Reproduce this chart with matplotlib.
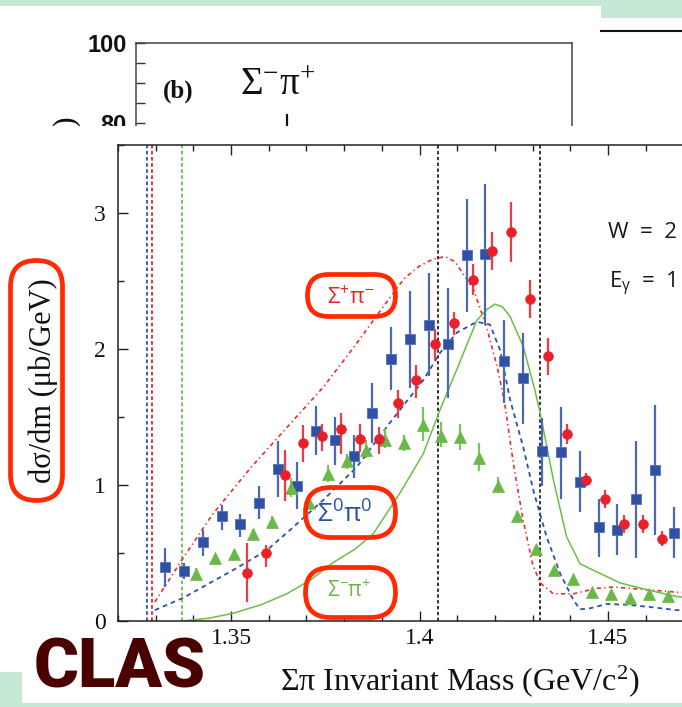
import matplotlib
matplotlib.use("Agg")
import matplotlib.pyplot as plt
from matplotlib.patches import Rectangle, FancyBboxPatch
from matplotlib.ticker import MultipleLocator, FixedLocator, FixedFormatter
import numpy as np

plt.rcParams['font.family'] = ['Liberation Serif', 'DejaVu Serif']

# ---------------- data ----------------
# Sigma0 pi0 (blue squares)
blue_m = [1.3325, 1.3375, 1.3425, 1.3475, 1.3525, 1.3575, 1.3625, 1.3675, 1.3725, 1.3775,
          1.3825, 1.3875, 1.3925, 1.3975, 1.4025, 1.4075, 1.4125, 1.4175, 1.4225, 1.4275,
          1.4325, 1.4375, 1.4425, 1.4475, 1.4525, 1.4575, 1.4625, 1.4675]
blue_v = [0.40, 0.37, 0.58, 0.77, 0.71, 0.87, 1.12, 0.99, 1.40, 1.33,
          1.21, 1.53, 1.93, 2.07, 2.18, 2.04, 2.69, 2.70, 1.91, 1.79,
          1.25, 1.24, 1.02, 0.69, 0.67, 0.90, 1.11, 0.65]
blue_lo = [0.25, 0.31, 0.48, 0.67, 0.62, 0.75, 0.91, 0.82, 1.22, 1.15,
           1.05, 1.31, 1.70, 1.71, 1.80, 1.64, 2.27, 2.18, 1.60, 1.45,
           0.99, 0.90, 0.80, 0.47, 0.485, 0.46, 0.63, 0.46]
blue_hi = [0.54, 0.43, 0.67, 0.85, 0.79, 0.99, 1.32, 1.17, 1.58, 1.50,
           1.37, 1.75, 2.16, 2.43, 2.56, 2.45, 3.10, 3.21, 2.21, 2.12,
           1.49, 1.57, 1.25, 0.90, 0.86, 1.32, 1.59, 0.84]

# Sigma+ pi- (red circles)
red_m = [1.3542, 1.3592, 1.3642, 1.3692, 1.3742, 1.3792, 1.3842, 1.3892, 1.3942, 1.3992,
         1.4042, 1.4092, 1.4142, 1.4192, 1.4242, 1.4292, 1.4342, 1.4392, 1.4442, 1.4492,
         1.4542, 1.4592, 1.4642]
red_v = [0.355, 0.50, 1.07, 1.31, 1.36, 1.41, 1.34, 1.34, 1.60, 1.77,
         2.04, 2.19, 2.51, 2.72, 2.86, 2.37, 1.95, 1.375, 1.04, 0.90,
         0.71, 0.71, 0.60]
red_lo = [0.14, 0.40, 0.885, 1.17, 1.25, 1.23, 1.245, 1.23, 1.49, 1.64,
          1.92, 2.10, 2.40, 2.58, 2.64, 2.225, 1.81, 1.30, 0.99, 0.83,
          0.65, 0.65, 0.55]
red_hi = [0.57, 0.56, 1.26, 1.44, 1.45, 1.53, 1.45, 1.43, 1.70, 1.88,
          2.15, 2.27, 2.625, 2.86, 3.08, 2.51, 2.08, 1.45, 1.09, 0.96,
          0.78, 0.78, 0.66]

# Sigma- pi+ (green triangles)
green_m = [1.3408, 1.3458, 1.3508, 1.3558, 1.3608, 1.3658, 1.3708, 1.3758, 1.3808, 1.3858,
           1.3908, 1.3958, 1.4008, 1.4058, 1.4108, 1.4158, 1.4208, 1.4258, 1.4308, 1.4358,
           1.4408, 1.4458, 1.4508, 1.4558, 1.4608, 1.4658]
green_v = [0.345, 0.46, 0.49, 0.64, 0.73, 0.98, 0.87, 1.08, 1.18, 1.26,
           1.33, 1.31, 1.44, 1.36, 1.35, 1.20, 0.99, 0.775, 0.53, 0.375,
           0.31, 0.215, 0.20, 0.167, 0.196, 0.184]
green_lo = [0.30, 0.43, 0.46, 0.60, 0.69, 0.91, 0.82, 1.02, 1.12, 1.20,
            1.27, 1.25, 1.32, 1.28, 1.26, 1.105, 0.94, 0.74, 0.50, 0.35,
            0.29, 0.20, 0.18, 0.15, 0.18, 0.17]
green_hi = [0.39, 0.49, 0.52, 0.68, 0.77, 1.05, 0.91, 1.147, 1.23, 1.33,
            1.41, 1.37, 1.57, 1.46, 1.45, 1.31, 1.06, 0.81, 0.56, 0.40,
            0.33, 0.23, 0.22, 0.18, 0.21, 0.20]

# model curves
red_curve_m = [1.3298, 1.3370, 1.3450, 1.3550, 1.3657, 1.3745, 1.3833, 1.3922, 1.3960, 1.4000,
               1.4035, 1.4068, 1.4095, 1.4116, 1.4143, 1.4178, 1.4205, 1.4225, 1.4250, 1.4275,
               1.4300, 1.4320, 1.4355, 1.4408, 1.4470, 1.4514, 1.4603, 1.4690, 1.4800, 1.5000]
red_curve_v = [0.14, 0.45, 0.78, 1.12, 1.45, 1.72, 2.04, 2.38, 2.52, 2.61,
               2.66, 2.68, 2.64, 2.55, 2.44, 2.16, 1.88, 1.62, 1.14, 0.74,
               0.42, 0.28, 0.20, 0.20, 0.24, 0.25, 0.23, 0.21, 0.20, 0.19]

blue_curve_m = [1.3298, 1.3373, 1.3506, 1.3595, 1.3657, 1.3745, 1.3833, 1.3922, 1.4010, 1.4054,
                1.4099, 1.4152, 1.4187, 1.4214, 1.4240, 1.4275, 1.4302, 1.4337, 1.4373, 1.4408,
                1.4426, 1.4452, 1.4497, 1.4558, 1.4620, 1.4682, 1.4800, 1.5000]
blue_curve_v = [0.08, 0.17, 0.375, 0.52, 0.67, 0.89, 1.13, 1.46, 1.77, 1.97,
                2.12, 2.20, 2.18, 1.99, 1.63, 1.28, 0.96, 0.62, 0.35, 0.155,
                0.086, 0.093, 0.125, 0.118, 0.10, 0.08, 0.07, 0.06]

green_curve_m = [1.3370, 1.3440, 1.3506, 1.3580, 1.3648, 1.3710, 1.3771, 1.3830, 1.3877, 1.3948,
                 1.4010, 1.4054, 1.4099, 1.4152, 1.4178, 1.4200, 1.4220, 1.4240, 1.4275, 1.4306,
                 1.4320, 1.4355, 1.4390, 1.4426, 1.4479, 1.4532, 1.4603, 1.4682, 1.4800, 1.5000]
green_curve_v = [0.0, 0.02, 0.057, 0.12, 0.20, 0.30, 0.43, 0.53, 0.64, 0.94,
                 1.23, 1.55, 1.85, 2.21, 2.29, 2.33, 2.31, 2.24, 2.02, 1.70,
                 1.53, 1.04, 0.62, 0.42, 0.35, 0.28, 0.23, 0.18, 0.15, 0.12]

thresholds = [1.3276, 1.3290, 1.3369]   # Sigma0pi0, Sigma+pi-, Sigma-pi+
threshold_colors = ['#2f50a8', '#e8202a', '#6cbf45']
window_lines = [1.405, 1.432]

xticks = [1.35, 1.40, 1.45]
xticklabels = ['1.35', '1.4', '1.45']
yticks = [0, 1, 2, 3]

# ---------------- figure ----------------
W, H = 682, 707
fig = plt.figure(figsize=(W / 100, H / 100), dpi=100)
fig.patch.set_facecolor('white')

def pix_axes(z):
    a = fig.add_axes([0, 0, 1, 1], zorder=z)
    a.set_xlim(0, W)
    a.set_ylim(H, 0)
    a.axis('off')
    a.patch.set_alpha(0)
    return a

mint = '#c6e8d5'
bg = pix_axes(0)
bg.add_patch(Rectangle((0, 0), 601, 6, color=mint, lw=0))
bg.add_patch(Rectangle((601, 0), 81, 18, color=mint, lw=0))
bg.add_patch(Rectangle((0, 672), 22, 35, color=mint, lw=0))
bg.add_patch(Rectangle((0, 703), 682, 4, color=mint, lw=0))
bg.plot([601, 682], [31, 31], color='#111111', lw=1.5)
bg.plot([287, 287], [115, 140], color='#111111', lw=1.6)
bg.text(66, 121, ')', rotation=90, ha='center', va='center', fontsize=23,
        family='Liberation Serif', color='#111111')
bg.text(163, 98, '(b)', fontsize=18, fontweight='bold', family='Liberation Serif',
        ha='left', va='baseline', color='#111111')
bg.text(240, 95, r'$\mathregular{\Sigma^{-}\pi^{+}}$', fontsize=28, family='Liberation Serif',
        ha='left', va='baseline', color='#111111')

# upper panel (b), mostly hidden
axb = fig.add_axes([136 / W, 1 - 244.2 / H, 436 / W, 201.5 / H], zorder=0.5)
axb.patch.set_alpha(0)
axb.set_ylim(50, 100)
axb.set_xlim(0, 1)
axb.set_xticks([])
axb.yaxis.set_major_locator(FixedLocator([80, 100]))
axb.yaxis.set_minor_locator(FixedLocator([85, 90, 95]))
axb.tick_params(axis='y', which='both', direction='in', length=6.5, width=1.0,
                colors='#333333', pad=6.5)
for lab in axb.get_yticklabels():
    lab.set_family('Liberation Sans')
    lab.set_fontweight('bold')
    lab.set_fontsize(17)
    lab.set_color('#111111')
axb.spines['bottom'].set_visible(False)
for s in ['left', 'top', 'right']:
    axb.spines[s].set_color('#444444')
    axb.spines[s].set_linewidth(1.1)

# white cover (pasted lower figure)
cov = pix_axes(1)
cov.add_patch(Rectangle((22, 126), 660, 577, color='white', lw=0))

# main axes
ax = fig.add_axes([117.9 / W, 1 - 621 / H, 678.6 / W, 476 / H], zorder=2)
ax.patch.set_alpha(0)
ax.set_xlim(1.32, 1.50)
ax.set_ylim(0, 3.5)

for t, c in zip(thresholds, threshold_colors):
    ax.axvline(t, color=c, lw=1.3, ls=(0, (2.0, 1.4)), zorder=1)
for t in window_lines:
    ax.axvline(t, color='#111111', lw=1.2, ls=(0, (2.0, 1.5)), zorder=1)

ax.plot(red_curve_m, red_curve_v, color='#ee2a2a', lw=1.2, ls=(0, (2.5, 2.0, 0.8, 2.0)), zorder=2)
ax.plot(blue_curve_m, blue_curve_v, color='#2f50a8', lw=1.3, ls=(0, (2.6, 2.2)), zorder=2)
ax.plot(green_curve_m, green_curve_v, color='#6cbf45', lw=1.1, ls='-', zorder=2)

bv = np.array(blue_v)
ax.errorbar(blue_m, blue_v, yerr=[bv - np.array(blue_lo), np.array(blue_hi) - bv],
            fmt='s', ms=7.2, mfc='#2f50a5', mec='#5571b8', mew=0.6,
            ecolor='#4b68b5', elinewidth=1.6, capsize=0, zorder=3)
gv = np.array(green_v)
ax.errorbar(green_m, green_v, yerr=[gv - np.array(green_lo), np.array(green_hi) - gv],
            fmt='^', ms=8.0, mfc='#6ab84a', mec='#6ab84a', mew=0.5,
            ecolor='#7cc35a', elinewidth=1.6, capsize=0, zorder=4)
rv = np.array(red_v)
ax.errorbar(red_m, red_v, yerr=[rv - np.array(red_lo), np.array(red_hi) - rv],
            fmt='o', ms=7.0, mfc='#e8202a', mec='#e8202a', mew=0.5,
            ecolor='#ee3a45', elinewidth=1.6, capsize=0, zorder=5)

ax.xaxis.set_major_locator(FixedLocator(xticks))
ax.xaxis.set_major_formatter(FixedFormatter(xticklabels))
ax.xaxis.set_minor_locator(MultipleLocator(0.01))
ax.yaxis.set_major_locator(FixedLocator(yticks))
ax.yaxis.set_minor_locator(MultipleLocator(0.5))
ax.tick_params(which='both', direction='in', top=True, right=False, colors='#222222', width=1.0,
               labelcolor='#111111')
ax.tick_params(which='major', length=7.2)
ax.tick_params(which='minor', length=4.3)
ax.tick_params(axis='x', which='major', pad=5, labelsize=17)
ax.tick_params(axis='y', which='major', pad=9, labelsize=17)
ax.spines['right'].set_visible(False)
for s in ['left', 'top', 'bottom']:
    ax.spines[s].set_color('#222222')
    ax.spines[s].set_linewidth(1.1)

# overlay texts and annotation boxes
ov = pix_axes(3)
ov.text(43, 381, 'dσ/dm (μb/GeV)', rotation=90, ha='center', va='center', fontsize=22,
        family='Liberation Serif', color='#111111')
ov.text(460, 690, r'Σπ Invariant Mass (GeV/c$\mathregular{^2}$)', ha='center', va='baseline',
        fontsize=23, family='Liberation Serif', color='#111111')
ov.text(34, 687, 'CLAS', ha='left', va='baseline', fontsize=49.5, family='Roboto',
        fontweight='heavy', color='#4b0000')
ov.text(608, 238, 'W  =  2', ha='left', va='baseline', fontsize=16, family='Open Sans',
        color='#1a1a1a')
ov.text(609, 288, r'$\mathregular{E_{\gamma}}$  =  1', ha='left', va='baseline', fontsize=16,
        family='Open Sans', color='#1a1a1a')

box_red = '#ff2a00'
def pill(x0, y0, w, h, r):
    ov.add_patch(FancyBboxPatch((x0, y0), w, h, boxstyle=f'round,pad=0,rounding_size={r}',
                                fill=False, ec=box_red, lw=3.4))

pill(10.5, 260.5, 52, 240, 26)
pill(307.5, 274.5, 88, 42, 21)
pill(305.5, 487.5, 90, 50, 25)
pill(305.5, 567.5, 90, 50, 25)

ov.text(351, 297, r'$\mathregular{\Sigma^{+}\pi^{-}}$', ha='center', va='center', fontsize=16,
        family='Open Sans', color='#e82020')
ov.text(345, 515, r'$\mathregular{\Sigma^{0}\pi^{0}}$', ha='center', va='center', fontsize=19,
        family='Open Sans', color='#2d4fa0')
ov.text(349, 591, r'$\mathregular{\Sigma^{-}\pi^{+}}$', ha='center', va='center', fontsize=15,
        family='Open Sans', color='#6ab446')

fig.savefig('out.png', dpi=100)
